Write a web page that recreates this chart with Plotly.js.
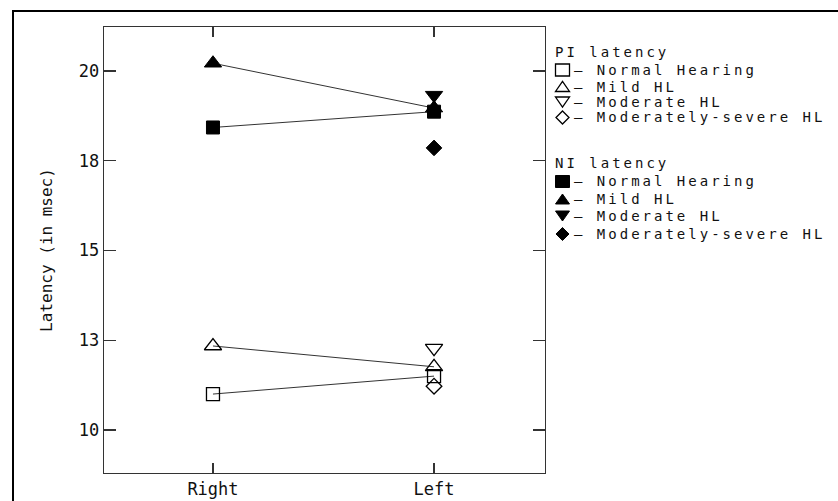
<!DOCTYPE html>
<html>
<head>
<meta charset="utf-8">
<script src="https://cdn.plot.ly/plotly-3.0.1.min.js"></script>
<style>
html,body{margin:0;padding:0;background:#fff;overflow:hidden;width:838px;height:501px;}
#chart{width:838px;height:501px;position:absolute;left:0;top:0;}
#frame{position:absolute;left:12px;top:10px;width:900px;height:600px;border-left:2px solid #000;border-top:2px solid #000;pointer-events:none;}
.annotation-text{letter-spacing:3px;}
</style>
</head>
<body>
<div id="chart"></div>
<div id="frame"></div>
<script>
// ---- data ----
const sides = ["Right", "Left"];
const piNormal = [11.0, 11.5];
const piMild = [12.34, 11.76];
const piModerate = [null, 12.28];
const piModSevere = [null, 11.22];
const niNormal = [18.43, 18.87];
const niMild = [20.22, 18.97];
const niModerate = [null, 19.33];
const niModSevere = [null, 17.86];

const yTickVals = [10, 12.5, 15, 17.5, 20];
const yTickText = ["10", "13", "15", "18", "20"];

const groupLabels = ["Normal Hearing", "Mild HL", "Moderate HL", "Moderately-severe HL"];
const groupTitles = ["PI latency", "NI latency"];

// ---- layout geometry ----
const W = 838, H = 501, ML = 104, MR = 293, MT = 27, MB = 28;
const px2x = p => (p - ML) / (W - ML - MR);
const py2y = p => (H - MB - p) / (H - MT - MB);

const markerOpen = ["square-open", "triangle-up-open", "triangle-down-open", "diamond-open"];
const markerFilled = ["square", "triangle-up", "triangle-down", "diamond"];
const markerSizes = [13, 15, 15, 12];

const piSeries = [piNormal, piMild, piModerate, piModSevere];
const niSeries = [niNormal, niMild, niModerate, niModSevere];

const traces = [];
// connecting lines (under markers)
[piSeries, niSeries].forEach((grp) => {
  grp.forEach((vals) => {
    traces.push({
      x: sides, y: vals, type: "scatter", mode: "lines",
      line: {color: "#333", width: 1}, showlegend: false, hoverinfo: "skip",
      connectgaps: false
    });
  });
});
// markers
piSeries.forEach((vals, i) => {
  traces.push({
    x: sides, y: vals, type: "scatter", mode: "markers",
    name: "PI " + groupLabels[i], showlegend: false,
    marker: {symbol: markerOpen[i], size: markerSizes[i], color: "#000", line: {color: "#000", width: 1.3}}
  });
});
niSeries.forEach((vals, i) => {
  traces.push({
    x: sides, y: vals, type: "scatter", mode: "markers",
    name: "NI " + groupLabels[i], showlegend: false,
    marker: {symbol: markerFilled[i], size: markerSizes[i], color: "#000", line: {color: "#000", width: 1}}
  });
});

// ---- key (drawn as text + small shapes) ----
const legendFont = {family: "DejaVu Sans Mono", size: 14, color: "#111"};
const titleY = [52, 163];
const rowY = [[70, 86.5, 102, 117.5], [181.5, 199, 216, 234]];
const keyCx = 562.5;

function pathFrom(pts) {
  return "M" + pts.map(p => px2x(p[0]).toFixed(5) + "," + py2y(p[1]).toFixed(5)).join(" L") + " Z";
}
function keyPoints(kind, cx, cy) {
  if (kind === 0) { const w = 7, h = 6; return [[cx - w, cy - h], [cx + w, cy - h], [cx + w, cy + h], [cx - w, cy + h]]; }
  if (kind === 1) { const w = 7, h = 5; return [[cx - w, cy + h], [cx + w, cy + h], [cx, cy - h]]; }
  if (kind === 2) { const w = 7, h = 5; return [[cx - w, cy - h], [cx + w, cy - h], [cx, cy + h]]; }
  const w = 6.5, h = 6.5; return [[cx, cy - h], [cx + w, cy], [cx, cy + h], [cx - w, cy]];
}

const annotations = [];
const shapes = [];
groupTitles.forEach((t, g) => {
  annotations.push({
    xref: "paper", yref: "paper", x: px2x(553), y: py2y(titleY[g]),
    xanchor: "left", yanchor: "middle", showarrow: false,
    text: t, font: legendFont
  });
  groupLabels.forEach((lab, i) => {
    shapes.push({
      type: "path", xref: "paper", yref: "paper",
      path: pathFrom(keyPoints(i, keyCx, rowY[g][i])),
      line: {color: "#000", width: g === 0 ? 1.3 : 1},
      fillcolor: g === 0 ? "rgba(0,0,0,0)" : "#000"
    });
    annotations.push({
      xref: "paper", yref: "paper", x: px2x(572), y: py2y(rowY[g][i]),
      xanchor: "left", yanchor: "middle", showarrow: false,
      text: "\u2013 " + lab, font: legendFont
    });
  });
});

const axisCommon = {
  showgrid: false, zeroline: false, showline: true, mirror: "ticks",
  linecolor: "#333", linewidth: 1.3, ticks: "inside", tickcolor: "#333", tickwidth: 1.3,
  tickfont: {family: "DejaVu Sans Mono", size: 17, color: "#111"}
};

const layout = {
  width: W, height: H,
  margin: {l: ML, r: MR, t: MT, b: MB, pad: 0},
  paper_bgcolor: "#fff", plot_bgcolor: "#fff",
  showlegend: false,
  xaxis: Object.assign({}, axisCommon, {
    type: "category", categoryorder: "array", categoryarray: sides,
    range: [-0.493, 1.502], ticklen: 10
  }),
  yaxis: Object.assign({}, axisCommon, {
    range: [8.8, 21.23], tickvals: yTickVals, ticktext: yTickText, ticklen: 12,
    title: {text: "Latency (in msec)", font: {family: "DejaVu Sans Mono", size: 16, color: "#111"}, standoff: 22}
  }),
  annotations: annotations,
  shapes: shapes
};

Plotly.newPlot("chart", traces, layout, {displayModeBar: false, staticPlot: true});
</script>
</body>
</html>
